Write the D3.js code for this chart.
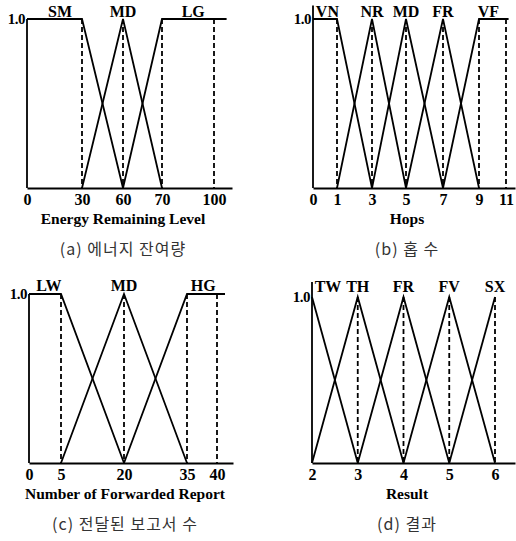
<!DOCTYPE html>
<html>
<head>
<meta charset="utf-8">
<script src="https://cdn.jsdelivr.net/npm/d3@7"></script>
<style>
  body { margin: 0; background: #fff; }
  .tick text, .lbl { font-family: "Liberation Serif", serif; font-weight: bold; fill: #000; }
  .cap { font-family: "Noto Sans CJK KR", sans-serif; fill: #333; }
</style>
</head>
<body>
<div id="vis"></div>
<script>
// (a) energy remaining level
var energyTicks = [0, 30, 60, 70, 100];
var energyTerms = ["SM", "MD", "LG"];
var energyLabelAt = [18, 60, 88];
var energySets = [
  [[0, 1], [30, 1], [60, 0]],
  [[30, 0], [60, 1], [70, 0]],
  [[60, 0], [70, 1], [107, 1]]
];
var energyDashes = [30, 60, 70, 100];

// (b) hops
var hopTicks = [0, 1, 3, 5, 7, 9, 11];
var hopTerms = ["VN", "NR", "MD", "FR", "VF"];
var hopLabelAt = [0.6, 3, 5, 7, 9.7];
var hopSets = [
  [[0, 1], [1, 1], [3, 0]],
  [[1, 0], [3, 1], [5, 0]],
  [[3, 0], [5, 1], [7, 0]],
  [[5, 0], [7, 1], [9, 0]],
  [[7, 0], [9, 1], [11.2, 1]]
];
var hopDashes = [1, 3, 5, 7, 9, 11];

// (c) forwarded reports
var reportTicks = [0, 5, 20, 35, 40];
var reportTerms = ["LW", "MD", "HG"];
var reportLabelAt = [3.1, 20, 37.7];
var reportSets = [
  [[0, 1], [5, 1], [20, 0]],
  [[5, 0], [20, 1], [35, 0]],
  [[20, 0], [35, 1], [42.5, 1]]
];
var reportDashes = [5, 20, 35, 40];

// (d) result
var resultTicks = [2, 3, 4, 5, 6];
var resultTerms = ["TW", "TH", "FR", "FV", "SX"];
var resultLabelAt = [2.35, 3, 4, 5, 6];
var resultSets = [
  [[2, 1], [3, 0]],
  [[2, 0], [3, 1], [4, 0]],
  [[3, 0], [4, 1], [5, 0]],
  [[4, 0], [5, 1], [6, 0]],
  [[5, 0], [6, 1]]
];
var resultDashes = [3, 4, 5, 6];

var width = 516, height = 541;

var svg = d3.select("#vis")
    .append("svg")
    .attr("width", width)
    .attr("height", height);

// panel layout: x scale is piecewise, the printed axes are not evenly spaced
var panels = [
  {ticks: energyTicks, terms: energyTerms, labelAt: energyLabelAt, sets: energySets, dashes: energyDashes,
   dom: [0, 30, 60, 70, 100, 110], rng: [27, 82, 123, 162, 214, 232],
   y0: 188, y1: 19, yTop: 1, labelY: 17, title: "Energy Remaining Level", cap: "(a) 에너지 잔여량", cx: 123},
  {ticks: hopTicks, terms: hopTerms, labelAt: hopLabelAt, sets: hopSets, dashes: hopDashes,
   dom: [0, 1, 3, 5, 7, 9, 11, 11.7], rng: [313, 337, 372, 406, 443, 479, 506, 515],
   y0: 188, y1: 19, yTop: 1.08, labelY: 17, title: "Hops", cap: "(b) 홉 수", cx: 407},
  {ticks: reportTicks, terms: reportTerms, labelAt: reportLabelAt, sets: reportSets, dashes: reportDashes,
   dom: [0, 5, 20, 35, 40, 45], rng: [29, 61, 124, 187, 217, 233],
   y0: 463, y1: 294, yTop: 1, labelY: 291, title: "Number of Forwarded Report", cap: "(c) 전달된 보고서 수", cx: 125},
  {ticks: resultTicks, terms: resultTerms, labelAt: resultLabelAt, sets: resultSets, dashes: resultDashes,
   dom: [2, 6, 6.44], rng: [312, 495, 515],
   y0: 463, y1: 297, yTop: 1.09, labelY: 292, title: "Result", cap: "(d) 결과", cx: 407}
];

var line = d3.line();

panels.forEach(function(p) {
  var x = d3.scaleLinear().domain(p.dom).range(p.rng);
  var y = d3.scaleLinear().domain([0, 1]).range([p.y0, p.y1]);
  var g = svg.append("g");

  // dashed guides
  g.selectAll(".dash")
    .data(p.dashes)
    .join("line")
      .attr("x1", d => x(d)).attr("x2", d => x(d))
      .attr("y1", y(1)).attr("y2", y(0))
      .attr("stroke", "#000")
      .attr("stroke-width", 1.8)
      .attr("stroke-dasharray", "5,3");

  // membership functions
  g.selectAll(".mf")
    .data(p.sets)
    .join("path")
      .attr("fill", "none")
      .attr("stroke", "#000")
      .attr("stroke-width", 1.8)
      .attr("d", d => line(d.map(v => [x(v[0]), y(v[1])])));

  // x axis
  var xa = g.append("g")
    .attr("transform", "translate(0," + y(0) + ")")
    .call(d3.axisBottom(x).tickValues(p.ticks).tickSize(0).tickPadding(6).tickFormat(d3.format("d")));
  xa.select(".domain").attr("stroke-width", 1.8);
  xa.selectAll("text").style("font-size", "16px");

  // y axis
  g.append("line")
    .attr("x1", x(p.dom[0])).attr("x2", x(p.dom[0]))
    .attr("y1", y(0)).attr("y2", y(p.yTop))
    .attr("stroke", "#000").attr("stroke-width", 1.8);
  var ya = g.append("g")
    .attr("transform", "translate(" + x(p.dom[0]) + ",0)")
    .call(d3.axisLeft(y).tickValues([1]).tickSize(0).tickPadding(2).tickFormat(d3.format(".1f")));
  ya.select(".domain").remove();
  ya.selectAll("text").style("font-size", "15px").style("letter-spacing", "-0.5px");

  // term labels
  g.selectAll(".lbl")
    .data(p.terms)
    .join("text")
      .attr("class", "lbl")
      .attr("x", (d, i) => x(p.labelAt[i]))
      .attr("y", p.labelY)
      .attr("text-anchor", "middle")
      .style("font-size", "16px")
      .text(d => d);

  // axis title and caption
  g.append("text")
    .attr("class", "lbl")
    .attr("x", p.cx).attr("y", p.y0 + 36)
    .attr("text-anchor", "middle")
    .style("font-size", "15.5px")
    .text(p.title);

  g.append("text")
    .attr("class", "cap")
    .attr("x", p.cx).attr("y", p.y0 + 67)
    .attr("text-anchor", "middle")
    .style("font-size", "16px")
    .style("letter-spacing", "1px")
    .text(p.cap);
});
</script>
</body>
</html>
